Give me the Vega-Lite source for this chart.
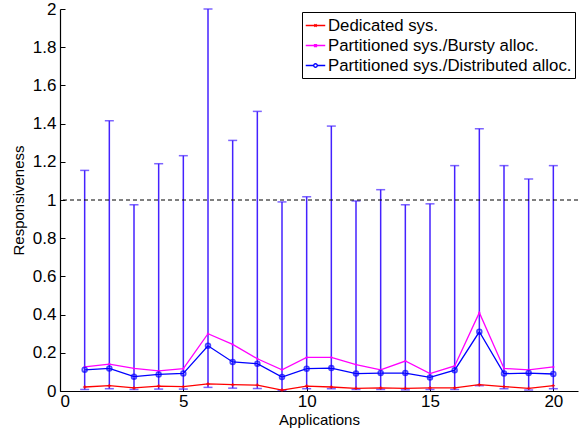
{
  "$schema": "https://vega.github.io/schema/vega-lite/v6.json",
  "width": 518,
  "height": 382,
  "autosize": {"type": "none"},
  "padding": {"left": 60, "top": 9, "right": 6, "bottom": 43},
  "background": "white",
  "config": {
    "view": {"stroke": null},
    "font": "Liberation Sans",
    "axis": {"labelOverlap": false, "grid": false}
  },
  "datasets": {
    "lines": [
      {"app": 1, "series": "Dedicated sys.", "value": 0.021},
      {"app": 2, "series": "Dedicated sys.", "value": 0.028},
      {"app": 3, "series": "Dedicated sys.", "value": 0.016},
      {"app": 4, "series": "Dedicated sys.", "value": 0.026},
      {"app": 5, "series": "Dedicated sys.", "value": 0.023},
      {"app": 6, "series": "Dedicated sys.", "value": 0.037},
      {"app": 7, "series": "Dedicated sys.", "value": 0.033},
      {"app": 8, "series": "Dedicated sys.", "value": 0.031},
      {"app": 9, "series": "Dedicated sys.", "value": 0.005},
      {"app": 10, "series": "Dedicated sys.", "value": 0.026},
      {"app": 11, "series": "Dedicated sys.", "value": 0.021},
      {"app": 12, "series": "Dedicated sys.", "value": 0.014},
      {"app": 13, "series": "Dedicated sys.", "value": 0.016},
      {"app": 14, "series": "Dedicated sys.", "value": 0.014},
      {"app": 15, "series": "Dedicated sys.", "value": 0.016},
      {"app": 16, "series": "Dedicated sys.", "value": 0.016},
      {"app": 17, "series": "Dedicated sys.", "value": 0.033},
      {"app": 18, "series": "Dedicated sys.", "value": 0.023},
      {"app": 19, "series": "Dedicated sys.", "value": 0.014},
      {"app": 20, "series": "Dedicated sys.", "value": 0.028},
      {"app": 1, "series": "Partitioned sys./Bursty alloc.", "value": 0.126},
      {"app": 2, "series": "Partitioned sys./Bursty alloc.", "value": 0.141},
      {"app": 3, "series": "Partitioned sys./Bursty alloc.", "value": 0.118},
      {"app": 4, "series": "Partitioned sys./Bursty alloc.", "value": 0.105},
      {"app": 5, "series": "Partitioned sys./Bursty alloc.", "value": 0.117},
      {"app": 6, "series": "Partitioned sys./Bursty alloc.", "value": 0.3},
      {"app": 7, "series": "Partitioned sys./Bursty alloc.", "value": 0.244},
      {"app": 8, "series": "Partitioned sys./Bursty alloc.", "value": 0.169},
      {"app": 9, "series": "Partitioned sys./Bursty alloc.", "value": 0.111},
      {"app": 10, "series": "Partitioned sys./Bursty alloc.", "value": 0.176},
      {"app": 11, "series": "Partitioned sys./Bursty alloc.", "value": 0.176},
      {"app": 12, "series": "Partitioned sys./Bursty alloc.", "value": 0.138},
      {"app": 13, "series": "Partitioned sys./Bursty alloc.", "value": 0.111},
      {"app": 14, "series": "Partitioned sys./Bursty alloc.", "value": 0.157},
      {"app": 15, "series": "Partitioned sys./Bursty alloc.", "value": 0.091},
      {"app": 16, "series": "Partitioned sys./Bursty alloc.", "value": 0.131},
      {"app": 17, "series": "Partitioned sys./Bursty alloc.", "value": 0.41},
      {"app": 18, "series": "Partitioned sys./Bursty alloc.", "value": 0.118},
      {"app": 19, "series": "Partitioned sys./Bursty alloc.", "value": 0.111},
      {"app": 20, "series": "Partitioned sys./Bursty alloc.", "value": 0.126},
      {"app": 1, "series": "Partitioned sys./Distributed alloc.", "value": 0.111},
      {"app": 2, "series": "Partitioned sys./Distributed alloc.", "value": 0.118},
      {"app": 3, "series": "Partitioned sys./Distributed alloc.", "value": 0.075},
      {"app": 4, "series": "Partitioned sys./Distributed alloc.", "value": 0.087},
      {"app": 5, "series": "Partitioned sys./Distributed alloc.", "value": 0.092},
      {"app": 6, "series": "Partitioned sys./Distributed alloc.", "value": 0.237},
      {"app": 7, "series": "Partitioned sys./Distributed alloc.", "value": 0.152},
      {"app": 8, "series": "Partitioned sys./Distributed alloc.", "value": 0.143},
      {"app": 9, "series": "Partitioned sys./Distributed alloc.", "value": 0.073},
      {"app": 10, "series": "Partitioned sys./Distributed alloc.", "value": 0.117},
      {"app": 11, "series": "Partitioned sys./Distributed alloc.", "value": 0.12},
      {"app": 12, "series": "Partitioned sys./Distributed alloc.", "value": 0.091},
      {"app": 13, "series": "Partitioned sys./Distributed alloc.", "value": 0.094},
      {"app": 14, "series": "Partitioned sys./Distributed alloc.", "value": 0.094},
      {"app": 15, "series": "Partitioned sys./Distributed alloc.", "value": 0.071},
      {"app": 16, "series": "Partitioned sys./Distributed alloc.", "value": 0.109},
      {"app": 17, "series": "Partitioned sys./Distributed alloc.", "value": 0.31},
      {"app": 18, "series": "Partitioned sys./Distributed alloc.", "value": 0.091},
      {"app": 19, "series": "Partitioned sys./Distributed alloc.", "value": 0.094},
      {"app": 20, "series": "Partitioned sys./Distributed alloc.", "value": 0.089}
    ],
    "err": [
      {"app": 1, "lo": 0.008, "hi": 1.155},
      {"app": 2, "lo": 0.012, "hi": 1.415},
      {"app": 3, "lo": 0.008, "hi": 0.975},
      {"app": 4, "lo": 0.01, "hi": 1.19},
      {"app": 5, "lo": 0.01, "hi": 1.232},
      {"app": 6, "lo": 0.019, "hi": 2.0},
      {"app": 7, "lo": 0.015, "hi": 1.312},
      {"app": 8, "lo": 0.013, "hi": 1.464},
      {"app": 9, "lo": 0.003, "hi": 0.99},
      {"app": 10, "lo": 0.012, "hi": 1.017},
      {"app": 11, "lo": 0.012, "hi": 1.387},
      {"app": 12, "lo": 0.008, "hi": 0.995},
      {"app": 13, "lo": 0.008, "hi": 1.054},
      {"app": 14, "lo": 0.006, "hi": 0.975},
      {"app": 15, "lo": 0.008, "hi": 0.98},
      {"app": 16, "lo": 0.008, "hi": 1.18},
      {"app": 17, "lo": 0.028, "hi": 1.373},
      {"app": 18, "lo": 0.012, "hi": 1.18},
      {"app": 19, "lo": 0.005, "hi": 1.11},
      {"app": 20, "lo": 0.012, "hi": 1.18}
    ]
  },
  "encoding": {
    "x": {"field": "app", "type": "quantitative", "scale": {"domain": [0, 21], "nice": false},
      "axis": {"values": [0, 5, 10, 15, 20], "title": "Applications", "grid": false,
        "domainColor": "black", "domainWidth": 1.2, "tickColor": "black", "tickSize": -5, "labelOverlap": false,
        "labelFont": "Liberation Sans", "labelFontSize": 17, "labelColor": "black", "labelPadding": 7,
        "titleFont": "Liberation Sans", "titleFontSize": 15, "titleFontWeight": "normal", "titleColor": "black", "titlePadding": 3}}
  },
  "layer": [
    {
      "data": {"name": "err"},
      "mark": {"type": "rule", "color": "#4422ff", "strokeWidth": 1.5},
      "encoding": {
        "y": {"field": "lo", "type": "quantitative", "scale": {"domain": [0, 2], "nice": false},
          "axis": {"values": [0, 0.2, 0.4, 0.6, 0.8, 1, 1.2, 1.4, 1.6, 1.8, 2], "format": "~g", "title": "Responsiveness", "grid": false,
            "domainColor": "black", "domainWidth": 1.2, "tickColor": "black", "tickSize": -5, "labelOverlap": false, "labelFlush": false,
            "labelFont": "Liberation Sans", "labelFontSize": 17, "labelColor": "black", "labelPadding": 9,
            "titleFont": "Liberation Sans", "titleFontSize": 15, "titleFontWeight": "normal", "titleColor": "black", "titlePadding": 6}},
        "y2": {"field": "hi"}
      }
    },
    {
      "data": {"name": "err"},
      "mark": {"type": "tick", "orient": "horizontal", "color": "#4422ff", "size": 9, "thickness": 1.5},
      "encoding": {
        "y": {"field": "hi", "type": "quantitative", "scale": {"domain": [0, 2], "nice": false},
          "axis": {"values": [0, 0.2, 0.4, 0.6, 0.8, 1, 1.2, 1.4, 1.6, 1.8, 2], "format": "~g", "title": "Responsiveness", "grid": false,
            "domainColor": "black", "domainWidth": 1.2, "tickColor": "black", "tickSize": -5, "labelOverlap": false, "labelFlush": false,
            "labelFont": "Liberation Sans", "labelFontSize": 17, "labelColor": "black", "labelPadding": 9,
            "titleFont": "Liberation Sans", "titleFontSize": 15, "titleFontWeight": "normal", "titleColor": "black", "titlePadding": 6}}
      }
    },
    {
      "data": {"name": "err"},
      "mark": {"type": "tick", "orient": "horizontal", "color": "#4422ff", "size": 9, "thickness": 1.5},
      "encoding": {
        "y": {"field": "lo", "type": "quantitative", "scale": {"domain": [0, 2], "nice": false},
          "axis": {"values": [0, 0.2, 0.4, 0.6, 0.8, 1, 1.2, 1.4, 1.6, 1.8, 2], "format": "~g", "title": "Responsiveness", "grid": false,
            "domainColor": "black", "domainWidth": 1.2, "tickColor": "black", "tickSize": -5, "labelOverlap": false, "labelFlush": false,
            "labelFont": "Liberation Sans", "labelFontSize": 17, "labelColor": "black", "labelPadding": 9,
            "titleFont": "Liberation Sans", "titleFontSize": 15, "titleFontWeight": "normal", "titleColor": "black", "titlePadding": 6}}
      }
    },
    {
      "data": {"values": [{"ref": 1}]},
      "mark": {"type": "rule", "color": "black", "strokeDash": [4, 3], "strokeWidth": 1},
      "encoding": {
        "x": null,
        "y": {"field": "ref", "type": "quantitative", "scale": {"domain": [0, 2], "nice": false},
          "axis": {"values": [0, 0.2, 0.4, 0.6, 0.8, 1, 1.2, 1.4, 1.6, 1.8, 2], "format": "~g", "title": "Responsiveness", "grid": false,
            "domainColor": "black", "domainWidth": 1.2, "tickColor": "black", "tickSize": -5, "labelOverlap": false, "labelFlush": false,
            "labelFont": "Liberation Sans", "labelFontSize": 17, "labelColor": "black", "labelPadding": 9,
            "titleFont": "Liberation Sans", "titleFontSize": 15, "titleFontWeight": "normal", "titleColor": "black", "titlePadding": 6}}
      }
    },
    {
      "data": {"name": "lines"},
      "layer": [
        {
          "mark": {"type": "line", "strokeWidth": 1.3},
          "encoding": {
            "color": {
              "field": "series", "type": "nominal",
              "scale": {"domain": ["Dedicated sys.", "Partitioned sys./Bursty alloc.", "Partitioned sys./Distributed alloc."], "range": ["#ff0000", "#ff00ff", "#0000ff"]},
              "legend": {
                "title": null,
                "orient": "none",
                "legendX": 242,
                "legendY": 3,
                "direction": "vertical",
                "fillColor": "white",
                "strokeColor": "black",
                "padding": 3,
                "labelFont": "Liberation Sans",
                "labelFontSize": 16.8,
                "labelLimit": 0,
                "labelColor": "black",
                "labelOffset": 2,
                "rowPadding": 0,
                "symbolSize": 380,
                "symbolStrokeWidth": 1.3,
                "symbolFillColor": "transparent",
                "encode": {
                  "symbols": {
                    "update": {
                      "shape": {"signal": "datum.value === 'Dedicated sys.' ? 'M-1,0H1M-0.12,-0.12L0.12,0.12M-0.12,0.12L0.12,-0.12' : datum.value === 'Partitioned sys./Bursty alloc.' ? 'M-1,0H1M-0.1,-0.1H0.1V0.1H-0.1Z' : 'M-1,0H-0.18M0.18,0H1M0.18,0A0.18,0.18 0 1,1 -0.18,0A0.18,0.18 0 1,1 0.18,0'"},
                      "fill": {"value": "transparent"}
                    }
                  }
                }
              }
            }
          }
        },
        {
          "transform": [{"filter": "datum.series === 'Dedicated sys.'"}],
          "mark": {"type": "point", "shape": "cross", "color": "#ff0000", "size": 12, "filled": true}
        },
        {
          "transform": [{"filter": "datum.series === 'Partitioned sys./Bursty alloc.'"}],
          "mark": {"type": "point", "shape": "circle", "color": "#ff00ff", "size": 6, "filled": true}
        },
        {
          "transform": [{"filter": "datum.series === 'Partitioned sys./Distributed alloc.'"}],
          "mark": {"type": "point", "shape": "circle", "color": "#0000ff", "size": 22, "filled": false, "strokeWidth": 1.8}
        }
      ],
      "encoding": {
        "y": {"field": "value", "type": "quantitative", "scale": {"domain": [0, 2], "nice": false},
          "axis": {"values": [0, 0.2, 0.4, 0.6, 0.8, 1, 1.2, 1.4, 1.6, 1.8, 2], "format": "~g", "title": "Responsiveness", "grid": false,
            "domainColor": "black", "domainWidth": 1.2, "tickColor": "black", "tickSize": -5, "labelOverlap": false, "labelFlush": false,
            "labelFont": "Liberation Sans", "labelFontSize": 17, "labelColor": "black", "labelPadding": 9,
            "titleFont": "Liberation Sans", "titleFontSize": 15, "titleFontWeight": "normal", "titleColor": "black", "titlePadding": 6}}
      }
    }
  ]
}
